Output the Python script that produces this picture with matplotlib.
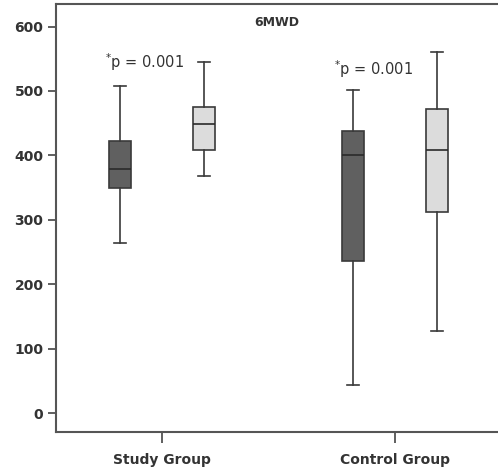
import matplotlib
matplotlib.use("Agg")
import matplotlib.pyplot as plt

groups = ["Study Group", "Control Group"]
series = ["Pre", "Post"]
whislo = [[264, 43], [368, 127]]
q1 = [[350, 236], [408, 312]]
med = [[379, 400], [448, 408]]
q3 = [[422, 438], [475, 472]]
whishi = [[508, 501], [545, 560]]
colors = ["#606060", "#dcdcdc"]
yticks = [0, 100, 200, 300, 400, 500, 600]
title = "6MWD"
ptexts = ["$^{*}$p = 0.001", "$^{*}$p = 0.001"]

fig = plt.figure(figsize=(4.98, 4.72), dpi=100)
ax = fig.add_axes([0.1124, 0.0847, 0.8876, 0.9068])
offset = 0.18
for s in range(2):
    stats = []
    for g in range(2):
        stats.append(dict(whislo=whislo[s][g], q1=q1[s][g], med=med[s][g],
                          q3=q3[s][g], whishi=whishi[s][g], fliers=[]))
    pos = [g + (-offset if s == 0 else offset) for g in range(2)]
    ax.bxp(stats, positions=pos, widths=0.095, capwidths=0.048,
           patch_artist=True, showfliers=False,
           boxprops=dict(facecolor=colors[s], edgecolor="#3a3a3a", linewidth=1.2),
           medianprops=dict(color="#2a2a2a", linewidth=1.2),
           whiskerprops=dict(color="#3a3a3a", linewidth=1.2),
           capprops=dict(color="#3a3a3a", linewidth=1.2))

ax.set_xlim(-0.455, 1.442)
ax.set_ylim(-29.5, 635)
ax.set_xticks(range(2))
ax.set_xticklabels(groups)
ax.set_yticks(yticks)
for lab in ax.get_xticklabels() + ax.get_yticklabels():
    lab.set_fontweight("bold")
    lab.set_fontsize(10)
    lab.set_color("#333333")
ax.tick_params(axis="y", length=6, width=1.2, color="#444444", pad=3)
ax.tick_params(axis="x", length=8, width=1.2, color="#444444", pad=7)
ax.spines["right"].set_visible(False)
for sp in ["left", "top", "bottom"]:
    ax.spines[sp].set_linewidth(1.5)
    ax.spines[sp].set_color("#555555")

ax.text(0.494, 606, title, ha="center", va="center", fontsize=9,
        fontweight="bold", color="#333333")
ax.text(-0.073, 545, ptexts[0], ha="center", va="center", fontsize=10.5, color="#333333")
ax.text(0.906, 534, ptexts[1], ha="center", va="center", fontsize=10.5, color="#333333")

fig.savefig("out.png", dpi=100)
